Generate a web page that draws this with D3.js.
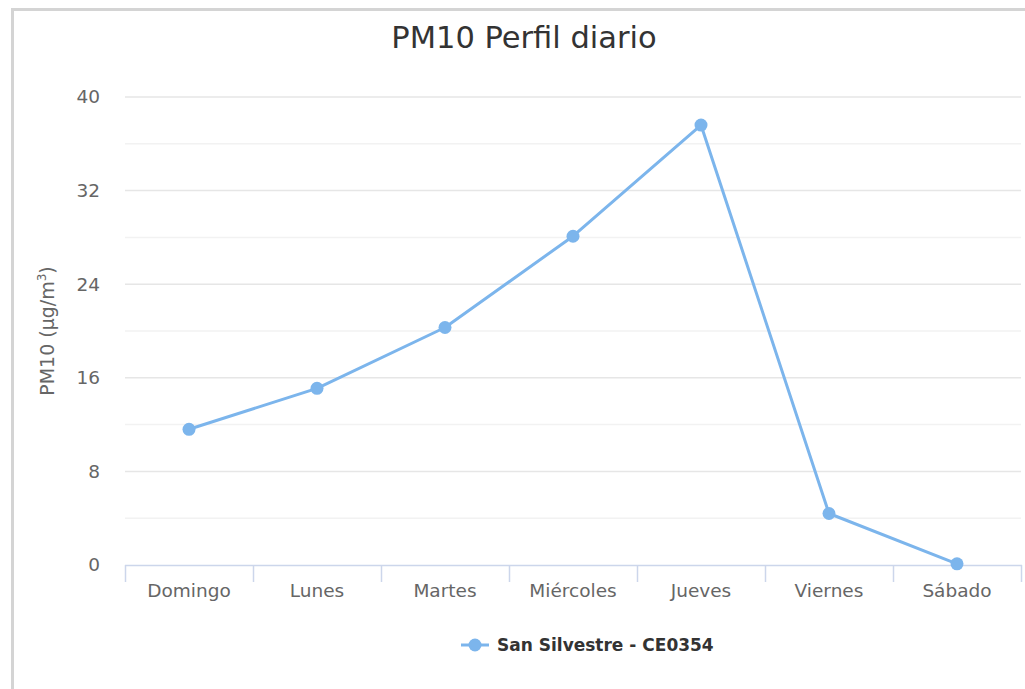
<!DOCTYPE html>
<html>
<head>
<meta charset="utf-8">
<script src="https://cdn.jsdelivr.net/npm/d3@7"></script>
<style>
  body { margin: 0; background: #fff; }
  svg { display: block; font-family: "DejaVu Sans", sans-serif; }
</style>
</head>
<body>
<div class="container"></div>
<script>
// data
const days = ["Domingo", "Lunes", "Martes", "Miércoles", "Jueves", "Viernes", "Sábado"];
const pm10 = [11.6, 15.1, 20.3, 28.1, 37.6, 4.4, 0.1];
const yTicks = [0, 8, 16, 24, 32, 40];
const yMinorTicks = [4, 12, 20, 28, 36];
const seriesName = "San Silvestre - CE0354";

const w = 1025;
const h = 689;
const color = "#7cb5ec";

const svg = d3.select(".container")
    .append("svg")
    .attr("width", w)
    .attr("height", h);

// outer frame, cut off at the right and bottom like the screenshot
svg.append("rect")
    .attr("x", 12.5).attr("y", 9.5)
    .attr("width", 1100).attr("height", 800)
    .attr("fill", "none")
    .attr("stroke", "#d4d4d4")
    .attr("stroke-width", 3);

// plot area
const plotLeft = 125, plotRight = 1021, plotTop = 97, plotBottom = 565;

const x = d3.scaleBand().domain(days).range([plotLeft, plotRight]);
const y = d3.scaleLinear().domain([0, 40]).range([plotBottom, plotTop]);

// minor grid lines
svg.append("g")
    .selectAll("line")
    .data(yMinorTicks)
    .join("line")
    .attr("x1", plotLeft).attr("x2", plotRight)
    .attr("y1", d => y(d)).attr("y2", d => y(d))
    .attr("stroke", "#f2f2f2")
    .attr("stroke-width", 1.5);

// major grid lines
svg.append("g")
    .selectAll("line")
    .data(yTicks.filter(d => d > 0))
    .join("line")
    .attr("x1", plotLeft).attr("x2", plotRight)
    .attr("y1", d => y(d)).attr("y2", d => y(d))
    .attr("stroke", "#e6e6e6")
    .attr("stroke-width", 1.5);

// y axis labels
svg.append("g")
    .selectAll("text")
    .data(yTicks)
    .join("text")
    .attr("x", 100)
    .attr("y", d => y(d))
    .attr("dy", "0.35em")
    .attr("text-anchor", "end")
    .attr("font-size", 18.5)
    .attr("fill", "#666")
    .text(d => d);

// y axis title, with a raised superscript
const yTitle = svg.append("text")
    .attr("transform", `translate(54, ${(plotTop + plotBottom) / 2}) rotate(-90)`)
    .attr("text-anchor", "middle")
    .attr("font-size", 19)
    .attr("fill", "#666");
yTitle.append("tspan").text("PM10 (µg/m");
yTitle.append("tspan").attr("font-size", 12).attr("dy", -8).text("3");
yTitle.append("tspan").attr("dy", 8).text(")");

// x axis: line, boundary ticks, labels
const xAxis = svg.append("g");
xAxis.append("line")
    .attr("x1", plotLeft).attr("x2", plotRight + 1)
    .attr("y1", plotBottom + 0.5).attr("y2", plotBottom + 0.5)
    .attr("stroke", "#ccd6eb")
    .attr("stroke-width", 1.5);

const boundaries = days.map(d => x(d)).concat([x(days[days.length - 1]) + x.bandwidth()]);
xAxis.selectAll("line.tick")
    .data(boundaries)
    .join("line")
    .attr("class", "tick")
    .attr("x1", d => d + 0.5).attr("x2", d => d + 0.5)
    .attr("y1", plotBottom).attr("y2", plotBottom + 17)
    .attr("stroke", "#ccd6eb")
    .attr("stroke-width", 1.5);

xAxis.selectAll("text")
    .data(days)
    .join("text")
    .attr("x", d => x(d) + x.bandwidth() / 2)
    .attr("y", 597)
    .attr("text-anchor", "middle")
    .attr("font-size", 18.5)
    .attr("fill", "#666")
    .text(d => d);

// series line
const line = d3.line()
    .x((d, i) => x(days[i]) + x.bandwidth() / 2)
    .y(d => y(d));

svg.append("path")
    .datum(pm10)
    .attr("d", line)
    .attr("fill", "none")
    .attr("stroke", color)
    .attr("stroke-width", 3)
    .attr("stroke-linejoin", "round");

svg.append("g")
    .selectAll("circle")
    .data(pm10)
    .join("circle")
    .attr("cx", (d, i) => x(days[i]) + x.bandwidth() / 2)
    .attr("cy", d => y(d))
    .attr("r", 6.5)
    .attr("fill", color);

// title
svg.append("text")
    .attr("x", 524)
    .attr("y", 48)
    .attr("text-anchor", "middle")
    .attr("font-size", 30.5)
    .attr("fill", "#333")
    .text("PM10 Perfil diario");

// legend
const legend = svg.append("g").attr("transform", "translate(0, 645)");
legend.append("line")
    .attr("x1", 461).attr("x2", 489)
    .attr("stroke", color)
    .attr("stroke-width", 3);
legend.append("circle")
    .attr("cx", 475).attr("r", 6.5)
    .attr("fill", color);
legend.append("text")
    .attr("x", 497)
    .attr("dy", "0.35em")
    .attr("font-size", 17)
    .attr("font-weight", "bold")
    .attr("fill", "#333")
    .text(seriesName);
</script>
</body>
</html>
